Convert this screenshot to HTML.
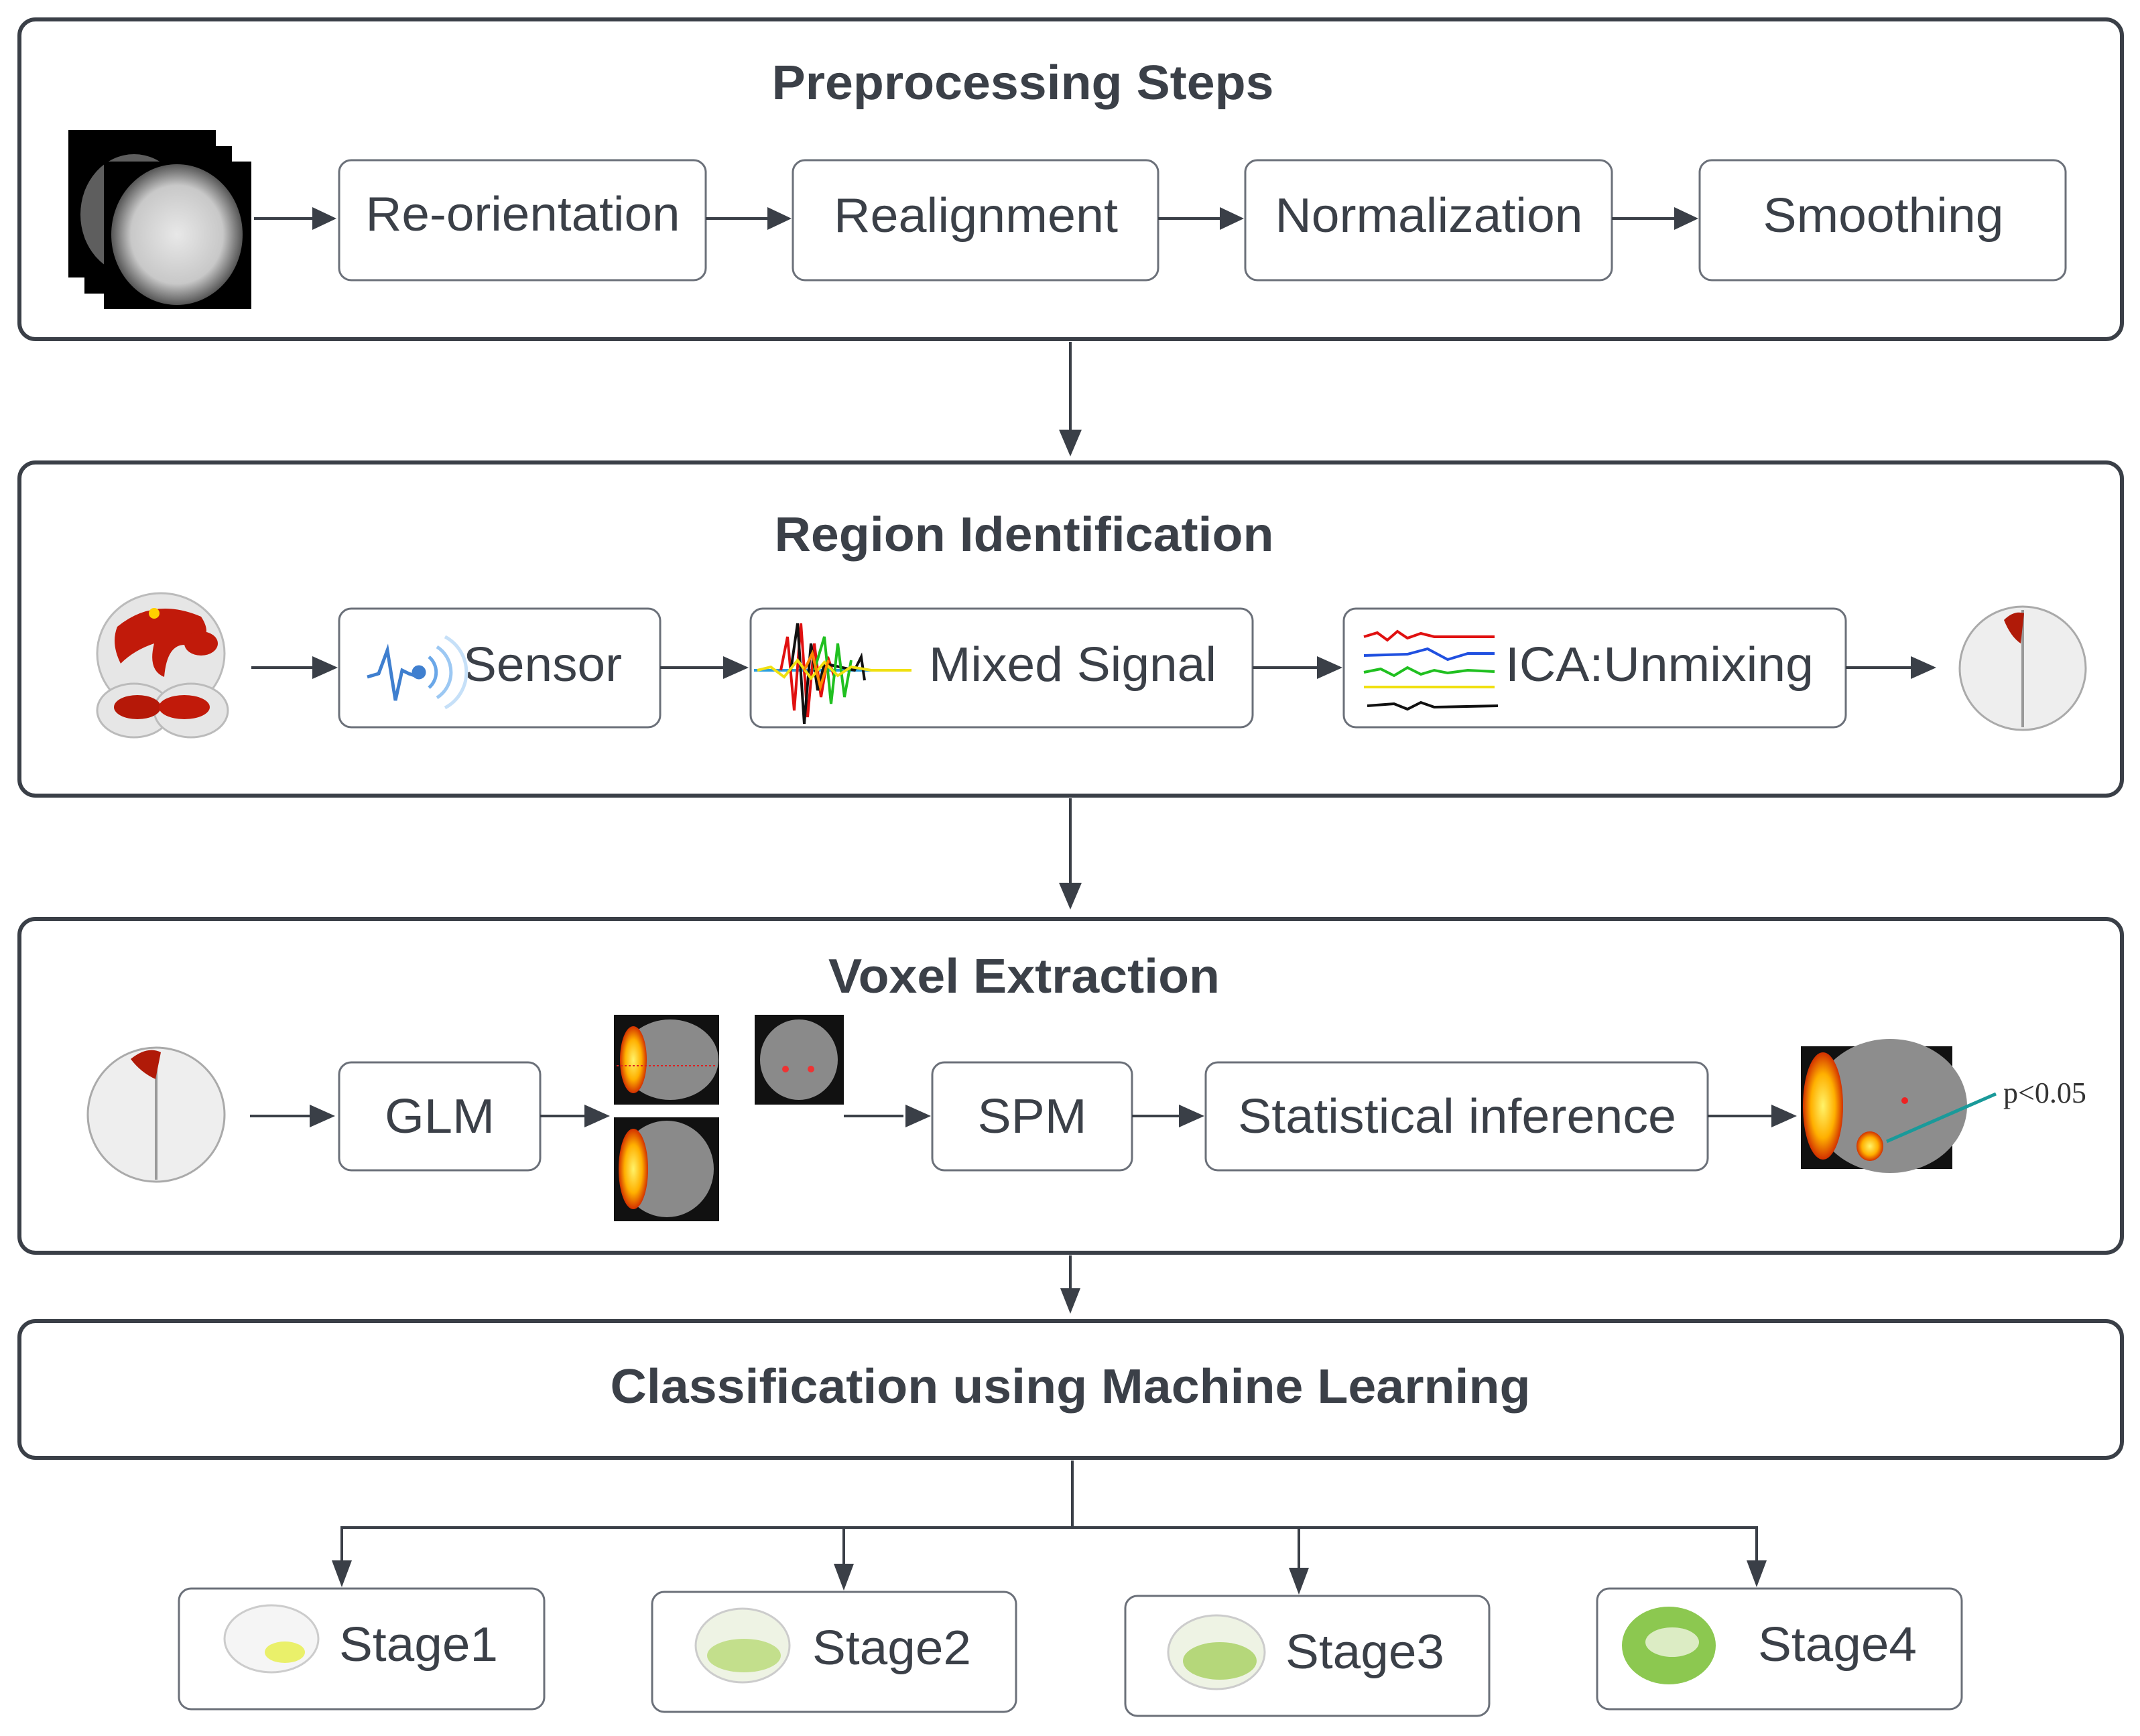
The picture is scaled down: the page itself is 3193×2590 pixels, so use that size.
<!DOCTYPE html>
<html><head><meta charset="utf-8"><style>
html,body{margin:0;padding:0;background:#fff;}
svg{display:block;}
text{font-family:"Liberation Sans",Arial,sans-serif;fill:#3b4048;}
.t{font-weight:bold;font-size:72px;}
.n{font-size:72px;}
</style></head><body>
<svg width="3193" height="2590" viewBox="0 0 3193 2590" xmlns="http://www.w3.org/2000/svg">
<defs>
<marker id="ah" markerWidth="10" markerHeight="10" refX="9" refY="5" orient="auto" markerUnits="userSpaceOnUse" viewBox="0 0 10 10">
</marker>
<radialGradient id="bg1" cx="50%" cy="50%" r="50%"><stop offset="0" stop-color="#e8e8e8"/><stop offset="0.7" stop-color="#c8c8c8"/><stop offset="1" stop-color="#555"/></radialGradient>
<radialGradient id="yel" cx="50%" cy="50%" r="50%"><stop offset="0" stop-color="#fff36a"/><stop offset="0.6" stop-color="#ffb000"/><stop offset="1" stop-color="#d23000"/></radialGradient>
</defs>

<!-- Big frames -->
<g fill="none" stroke="#3a3f47" stroke-width="6">
<rect x="29" y="29" width="3137" height="477" rx="24"/>
<rect x="29" y="690" width="3137" height="497" rx="24"/>
<rect x="29" y="1371" width="3137" height="498" rx="24"/>
<rect x="29" y="1971" width="3137" height="204" rx="24"/>
</g>

<!-- Titles -->
<text class="t" x="1526" y="148" text-anchor="middle" textLength="749" lengthAdjust="spacingAndGlyphs">Preprocessing Steps</text>
<text class="t" x="1528" y="822" text-anchor="middle" textLength="745" lengthAdjust="spacingAndGlyphs">Region Identification</text>
<text class="t" x="1528" y="1481" text-anchor="middle" textLength="584" lengthAdjust="spacingAndGlyphs">Voxel Extraction</text>
<text class="t" x="1597" y="2093" text-anchor="middle" textLength="1373" lengthAdjust="spacingAndGlyphs">Classification using Machine Learning</text>

<!-- Node boxes -->
<g fill="#fff" stroke="#6b7079" stroke-width="3">
<rect x="506" y="239" width="547" height="179" rx="18"/>
<rect x="1183" y="239" width="545" height="179" rx="18"/>
<rect x="1858" y="239" width="547" height="179" rx="18"/>
<rect x="2536" y="239" width="546" height="179" rx="18"/>
<rect x="506" y="908" width="479" height="177" rx="18"/>
<rect x="1120" y="908" width="749" height="177" rx="18"/>
<rect x="2005" y="908" width="749" height="177" rx="18"/>
<rect x="506" y="1585" width="300" height="161" rx="18"/>
<rect x="1391" y="1585" width="298" height="161" rx="18"/>
<rect x="1799" y="1585" width="749" height="161" rx="18"/>
<rect x="267" y="2370" width="545" height="180" rx="18"/>
<rect x="973" y="2375" width="543" height="179" rx="18"/>
<rect x="1679" y="2381" width="543" height="179" rx="18"/>
<rect x="2383" y="2370" width="544" height="180" rx="18"/>
</g>

<!-- Node labels -->
<text class="n" x="780" y="344" text-anchor="middle" textLength="469" lengthAdjust="spacingAndGlyphs">Re-orientation</text>
<text class="n" x="1456" y="346" text-anchor="middle" textLength="424" lengthAdjust="spacingAndGlyphs">Realignment</text>
<text class="n" x="2132" y="346" text-anchor="middle" textLength="459" lengthAdjust="spacingAndGlyphs">Normalization</text>
<text class="n" x="2810" y="346" text-anchor="middle" textLength="359" lengthAdjust="spacingAndGlyphs">Smoothing</text>
<text class="n" x="691" y="1016" textLength="237" lengthAdjust="spacingAndGlyphs">Sensor</text>
<text class="n" x="1386" y="1016" textLength="429" lengthAdjust="spacingAndGlyphs">Mixed Signal</text>
<text class="n" x="2246" y="1016" textLength="460" lengthAdjust="spacingAndGlyphs">ICA:Unmixing</text>
<text class="n" x="656" y="1690" text-anchor="middle" textLength="164" lengthAdjust="spacingAndGlyphs">GLM</text>
<text class="n" x="1540" y="1690" text-anchor="middle" textLength="163" lengthAdjust="spacingAndGlyphs">SPM</text>
<text class="n" x="2174" y="1690" text-anchor="middle" textLength="654" lengthAdjust="spacingAndGlyphs">Statistical inference</text>
<text class="n" x="506" y="2478" textLength="237" lengthAdjust="spacingAndGlyphs">Stage1</text>
<text class="n" x="1212" y="2483" textLength="237" lengthAdjust="spacingAndGlyphs">Stage2</text>
<text class="n" x="1918" y="2489" textLength="237" lengthAdjust="spacingAndGlyphs">Stage3</text>
<text class="n" x="2623" y="2478" textLength="237" lengthAdjust="spacingAndGlyphs">Stage4</text>

<!-- Arrows -->
<g stroke="#3a3f47" stroke-width="4" fill="none">
<line x1="379" y1="326" x2="470" y2="326"/>
<line x1="1053" y1="326" x2="1148" y2="326"/>
<line x1="1728" y1="326" x2="1823" y2="326"/>
<line x1="2405" y1="326" x2="2500" y2="326"/>
<line x1="375" y1="996" x2="468" y2="996"/>
<line x1="985" y1="996" x2="1082" y2="996"/>
<line x1="1869" y1="996" x2="1966" y2="996"/>
<line x1="2754" y1="996" x2="2852" y2="996"/>
<line x1="373" y1="1665" x2="463" y2="1665"/>
<line x1="806" y1="1665" x2="873" y2="1665"/>
<line x1="1259" y1="1665" x2="1348" y2="1665"/>
<line x1="1689" y1="1665" x2="1760" y2="1665"/>
<line x1="2548" y1="1665" x2="2644" y2="1665"/>
<line x1="1597" y1="510" x2="1597" y2="645"/>
<line x1="1597" y1="1191" x2="1597" y2="1320"/>
<line x1="1597" y1="1873" x2="1597" y2="1925"/>
<line x1="1600" y1="2179" x2="1600" y2="2281"/>
<line x1="508" y1="2279" x2="2623" y2="2279"/>
<line x1="510" y1="2279" x2="510" y2="2330"/>
<line x1="1259" y1="2279" x2="1259" y2="2335"/>
<line x1="1938" y1="2279" x2="1938" y2="2341"/>
<line x1="2621" y1="2279" x2="2621" y2="2330"/>
</g>
<g fill="#3a3f47">
<polygon points="502,326 466,309 466,343"/>
<polygon points="1181,326 1145,309 1145,343"/>
<polygon points="1856,326 1820,309 1820,343"/>
<polygon points="2534,326 2498,309 2498,343"/>
<polygon points="504,996 466,979 466,1013"/>
<polygon points="1117,996 1079,979 1079,1013"/>
<polygon points="2003,996 1965,979 1965,1013"/>
<polygon points="2889,996 2851,979 2851,1013"/>
<polygon points="500,1665 462,1648 462,1682"/>
<polygon points="910,1665 872,1648 872,1682"/>
<polygon points="1389,1665 1351,1648 1351,1682"/>
<polygon points="1797,1665 1759,1648 1759,1682"/>
<polygon points="2681,1665 2643,1648 2643,1682"/>
<polygon points="1597,681 1580,641 1614,641"/>
<polygon points="1597,1357 1580,1317 1614,1317"/>
<polygon points="1597,1960 1582,1922 1612,1922"/>
<polygon points="510,2368 495,2328 525,2328"/>
<polygon points="1259,2373 1244,2333 1274,2333"/>
<polygon points="1938,2379 1923,2339 1953,2339"/>
<polygon points="2621,2368 2606,2328 2636,2328"/>
</g>

<!-- MRI stack -->
<g>
<rect x="102" y="194" width="220" height="220" fill="#000"/>
<rect x="126" y="218" width="220" height="220" fill="#000"/>
<ellipse cx="200" cy="320" rx="80" ry="90" fill="#bbb" opacity="0.5"/>
<rect x="155" y="241" width="220" height="220" fill="#000"/>
<ellipse cx="264" cy="350" rx="98" ry="105" fill="url(#bg1)"/>
</g>

<!-- Region identification brains -->
<g>
<ellipse cx="240" cy="975" rx="95" ry="90" fill="#e6e6e6" stroke="#bbb" stroke-width="3"/>
<ellipse cx="200" cy="1060" rx="55" ry="40" fill="#e6e6e6" stroke="#bbb" stroke-width="3"/>
<ellipse cx="285" cy="1060" rx="55" ry="40" fill="#e6e6e6" stroke="#bbb" stroke-width="3"/>
<path d="M175 935 Q230 890 300 920 Q320 950 290 965 Q250 950 245 1010 Q220 1000 230 960 Q200 970 180 990 Q165 960 175 935Z" fill="#c11a0a"/>
<ellipse cx="300" cy="960" rx="25" ry="18" fill="#c11a0a"/>
<ellipse cx="205" cy="1055" rx="35" ry="18" fill="#b51808"/>
<ellipse cx="275" cy="1055" rx="38" ry="18" fill="#c11a0a"/>
<circle cx="230" cy="915" r="8" fill="#ffd000"/>
</g>
<g>
<ellipse cx="3018" cy="997" rx="94" ry="92" fill="#eee" stroke="#aaa" stroke-width="3"/>
<line x1="3018" y1="910" x2="3018" y2="1085" stroke="#999" stroke-width="4"/>
<path d="M2990 925 Q3005 910 3020 915 L3015 960 Q3000 950 2990 925Z" fill="#b01a08"/>
</g>
<g>
<ellipse cx="233" cy="1663" rx="102" ry="100" fill="#eee" stroke="#aaa" stroke-width="3"/>
<line x1="233" y1="1570" x2="233" y2="1760" stroke="#999" stroke-width="4"/>
<path d="M195 1580 Q220 1560 240 1570 L232 1610 Q210 1600 195 1580Z" fill="#b01a08"/>
</g>

<!-- Sensor icon -->
<g fill="none" stroke="#3f7fcf" stroke-width="5">
<polyline points="548,1010 565,1005 578,970 590,1045 600,1000 610,1005 625,1010"/>
<circle cx="625" cy="1003" r="8" fill="#3f7fcf"/>
<path d="M640 980 A30 30 0 0 1 640 1026" stroke="#6aa7e8"/>
<path d="M652 965 A45 45 0 0 1 652 1041" stroke="#9cc8f3"/>
<path d="M664 950 A60 60 0 0 1 664 1056" stroke="#c6e0f8"/>
</g>

<!-- Mixed signal -->
<g fill="none" stroke-width="4">
<line x1="1125" y1="1000" x2="1355" y2="1000" stroke="#2a9ee0"/>
<polyline stroke="#e01010" points="1165,1000 1175,950 1185,1060 1195,930 1205,1070 1215,960 1225,1040 1235,980 1245,1010"/>
<polyline stroke="#111" points="1180,1000 1190,930 1200,1080 1210,960 1220,1030 1230,990 1275,1000 1285,980 1290,1015"/>
<polyline stroke="#20c020" points="1215,1000 1230,950 1240,1050 1250,960 1260,1040 1270,985"/>
<polyline stroke="#f0e010" points="1130,1000 1150,995 1170,1010 1190,985 1210,1012 1230,988 1250,1008 1270,995 1300,1000 1360,1000"/>
<polyline stroke="#ff8800" points="1200,1000 1212,975 1224,1025 1236,985"/>
</g>

<!-- ICA -->
<g fill="none" stroke-width="4">
<polyline stroke="#e01010" points="2035,950 2055,944 2070,955 2085,942 2100,952 2120,945 2140,950 2230,950"/>
<polyline stroke="#2050e0" points="2035,978 2100,976 2130,968 2160,984 2190,975 2230,975"/>
<polyline stroke="#20c020" points="2035,1003 2060,998 2080,1008 2100,996 2120,1006 2140,1000 2160,1004 2190,1000 2230,1002"/>
<polyline stroke="#f0e010" points="2035,1025 2230,1025"/>
<polyline stroke="#111" points="2040,1053 2080,1050 2100,1058 2120,1048 2140,1055 2235,1053"/>
</g>

<!-- Voxel images -->
<g>
<rect x="916" y="1514" width="157" height="134" fill="#111"/>
<ellipse cx="1000" cy="1581" rx="72" ry="60" fill="#8a8a8a"/>
<ellipse cx="945" cy="1581" rx="20" ry="50" fill="url(#yel)"/>
<line x1="920" y1="1590" x2="1070" y2="1590" stroke="#d22" stroke-width="2" stroke-dasharray="3,3"/>
<rect x="916" y="1667" width="157" height="155" fill="#111"/>
<ellipse cx="995" cy="1744" rx="70" ry="72" fill="#8a8a8a"/>
<ellipse cx="945" cy="1744" rx="22" ry="60" fill="url(#yel)"/>
<rect x="1126" y="1514" width="133" height="134" fill="#111"/>
<ellipse cx="1192" cy="1581" rx="58" ry="60" fill="#8a8a8a"/>
<circle cx="1172" cy="1595" r="5" fill="#e33"/><circle cx="1210" cy="1595" r="5" fill="#e33"/>
</g>
<g>
<rect x="2687" y="1561" width="226" height="183" fill="#111"/>
<ellipse cx="2820" cy="1650" rx="115" ry="100" fill="#8d8d8d"/>
<ellipse cx="2720" cy="1650" rx="30" ry="80" fill="url(#yel)"/>
<ellipse cx="2790" cy="1710" rx="20" ry="22" fill="url(#yel)"/>
<circle cx="2842" cy="1642" r="5" fill="#e22"/>
<line x1="2815" y1="1703" x2="2978" y2="1632" stroke="#1a9a9a" stroke-width="5"/>
</g>
<text x="2989" y="1645" style="font-family:'Liberation Serif',serif;font-size:44px;fill:#333">p&lt;0.05</text>

<!-- Stage brains -->
<g>
<ellipse cx="405" cy="2445" rx="70" ry="50" fill="#f5f5f5" stroke="#ccc" stroke-width="3"/>
<ellipse cx="425" cy="2465" rx="30" ry="16" fill="#eaf06a"/>
<ellipse cx="1108" cy="2455" rx="70" ry="55" fill="#eef3e4" stroke="#ccc" stroke-width="3"/>
<ellipse cx="1110" cy="2470" rx="55" ry="25" fill="#c3df8c"/>
<ellipse cx="1815" cy="2465" rx="72" ry="55" fill="#eef3e4" stroke="#ccc" stroke-width="3"/>
<ellipse cx="1820" cy="2478" rx="55" ry="28" fill="#b5d77a"/>
<ellipse cx="2490" cy="2455" rx="70" ry="58" fill="#8cc850"/>
<ellipse cx="2495" cy="2450" rx="40" ry="22" fill="#dcecc4"/>
</g>
</svg>
</body></html>
